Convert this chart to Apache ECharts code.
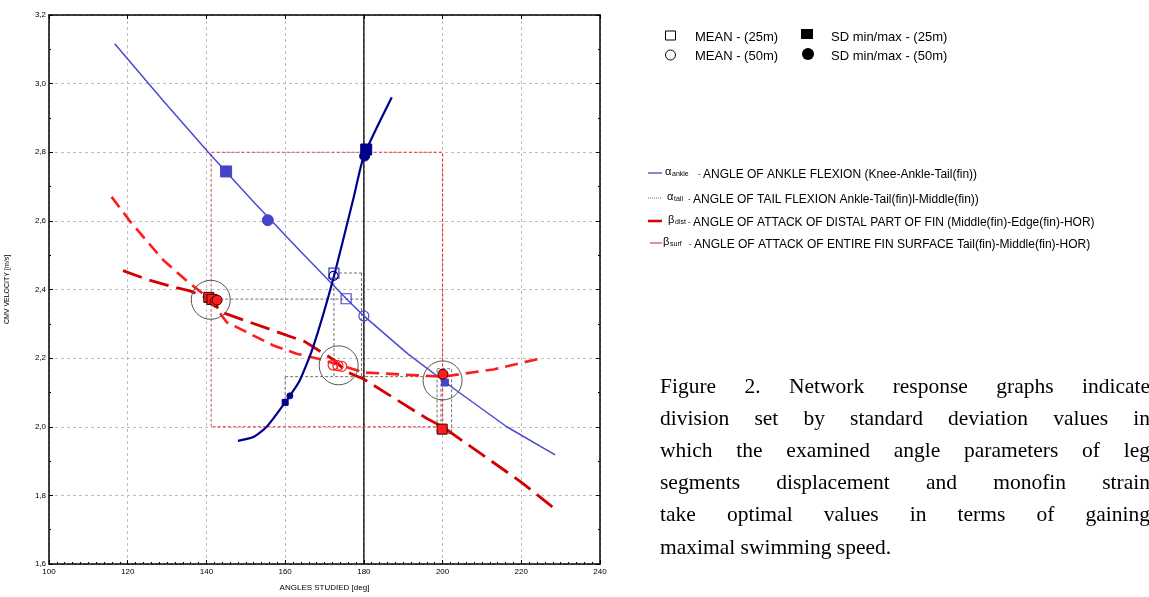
<!DOCTYPE html>
<html>
<head>
<meta charset="utf-8">
<script src="https://cdn.jsdelivr.net/npm/echarts@6/dist/echarts.min.js"></script>
<style>
  html, body { margin: 0; padding: 0; background: #ffffff; }
  #chart { width: 1149px; height: 597px; }
</style>
</head>
<body>
<div id="chart"></div>
<script>
// Network response curves: [angle (deg), C.M. velocity (m/s)]
const ankleCurve = [[116.7, 3.116], [128.8, 2.953], [140.3, 2.802], [152.0, 2.655], [164.0, 2.510],
  [176.0, 2.368], [180.0, 2.323], [191.1, 2.213], [203.0, 2.110], [216.3, 2.000], [228.6, 1.918]];
const tailCurve = [[148.0, 1.959], [151.9, 1.970], [155.3, 2.000], [160.0, 2.071], [163.7, 2.135],
  [167.1, 2.232], [172.2, 2.430], [177.3, 2.663], [180.0, 2.789], [187.1, 2.960]];
const distCurve = [[118.8, 2.455], [124.7, 2.430], [130.7, 2.410], [135.8, 2.396], [140.9, 2.372],
  [143.8, 2.334], [165.0, 2.248], [172.6, 2.193], [175.6, 2.160], [179.8, 2.140], [196.0, 2.024],
  [200.0, 2.000], [219.7, 1.841], [229.4, 1.753]];
const surfCurve = [[115.9, 2.670], [120.5, 2.600], [129.0, 2.486], [134.9, 2.426], [140.9, 2.372],
  [145.1, 2.305], [157.0, 2.237], [162.9, 2.213], [168.4, 2.198], [172.6, 2.184], [180.2, 2.158],
  [200.0, 2.146], [212.9, 2.167], [225.2, 2.200]];

// Mean and SD min/max markers
const ankleSdSquare = [[145.0, 2.744]];
const ankleSdCircle = [[155.6, 2.602]];
const ankleMeanSquare = [[175.5, 2.373]];
const ankleMeanCircle = [[180.0, 2.323]];
const ankleOptimum = [[200.6, 2.129]];
const tailSdSquareLow = [[160.0, 2.071]];
const tailSdCircleLow = [[161.2, 2.090]];
const tailMeanSquare = [[172.4, 2.448]];
const tailMeanCircle = [[172.3, 2.440]];
const tailSdSquareHigh = [[180.6, 2.808]];
const tailSdCircleHigh = [[180.2, 2.789]];
const finSdSquares = [[140.6, 2.377], [141.4, 2.371], [199.9, 1.993]];
const finSdCircles = [[142.2, 2.365], [142.7, 2.369], [200.1, 2.153]];
const finMeanCircles = [[172.2, 2.180], [173.4, 2.178], [174.4, 2.176]];

// Optimal response points (ringed)
const optimumPoints = [[141.1, 2.370], [173.6, 2.179], [200.0, 2.135]];

// Standard deviation ranges
const sdRangeRed = [[180.0, 2.8], [200.0, 2.8], [200.0, 2.0], [141.2, 2.0]];
const sdRangeDark = [[141.2, 2.0], [141.2, 2.8], [180.0, 2.8]];
const sdFrames = [
  [[141.0, 2.372], [180.0, 2.372]],
  [[172.4, 2.448], [180.0, 2.448]],
  [[172.4, 2.448], [172.4, 2.146]],
  [[179.4, 2.448], [179.4, 2.146]],
  [[160.0, 2.146], [200.0, 2.146]],
  [[160.0, 2.146], [160.0, 2.070]],
  [[198.6, 2.169], [202.3, 2.169], [202.3, 1.980], [198.6, 1.980], [198.6, 2.169]],
  [[199.6, 2.169], [199.6, 1.980]]
];
const referenceAngle = 180;

// Axis ranges
const xRange = [100, 240, 20];
const yRange = [1.6, 3.2, 0.2];

// Legend and caption text
const markerLegend = [
  ['MEAN - (25m)', 'SD min/max - (25m)'],
  ['MEAN - (50m)', 'SD min/max - (50m)']
];
const curveLegend = [
  ['α', 'ankle', 'ANGLE OF ANKLE FLEXION (Knee-Ankle-Tail(fin))'],
  ['α', 'tail', 'ANGLE OF TAIL FLEXION Ankle-Tail(fin)l-Middle(fin))'],
  ['β', 'dist', 'ANGLE OF ATTACK OF DISTAL PART OF FIN (Middle(fin)-Edge(fin)-HOR)'],
  ['β', 'surf', 'ANGLE OF ATTACK OF ENTIRE FIN SURFACE Tail(fin)-Middle(fin)-HOR)']
];
const captionLines = [
  'Figure 2. Network response graphs indicate',
  'division set by standard deviation values in',
  'which the examined angle parameters of leg',
  'segments displacement and monofin strain',
  'take optimal values in terms of gaining',
  'maximal swimming speed.'
];

const SANS = '"Liberation Sans", Arial, sans-serif';
const SERIF = '"Liberation Serif", "Times New Roman", serif';

function curve(data, color, width, type, z, smooth) {
  return { type: 'line', data, showSymbol: false, symbol: 'none', silent: true, z: z || 3,
    smooth: smooth || false, lineStyle: { color, width, type: type || 'solid' } };
}
function dots(data, symbol, size, fill, stroke, bw) {
  return { type: 'scatter', data, symbol, symbolSize: size, silent: true, z: 5,
    itemStyle: { color: fill, borderColor: stroke, borderWidth: bw == null ? 1 : bw, opacity: 1 } };
}

const series = [];
// reference angle
series.push(curve([[referenceAngle, yRange[0]], [referenceAngle, yRange[1]]], '#000000', 1.3, 'solid', 2));
// SD ranges
series.push(curve(sdRangeDark, '#b05858', 1, [3, 2], 2));
series.push(curve(sdRangeRed, '#f03030', 1.2, [3, 2], 2));
sdFrames.forEach(f => series.push(curve(f, '#707070', 1, [3, 2], 2)));
// response curves
series.push(curve(ankleCurve, '#4a4ad0', 1.5));
series.push(curve(surfCurve, '#ff1c1c', 2.6, [13, 7]));
series.push(curve(distCurve, '#d40000', 2.8, [20, 8]));
series.push(curve(tailCurve, '#00008b', 2.2, 'solid', 3, 0.2));
// markers
series.push(dots(ankleSdSquare, 'rect', 11, '#4444c8', '#4444c8'));
series.push(dots(ankleSdCircle, 'circle', 11, '#4444c8', '#4444c8'));
series.push(dots(ankleMeanSquare, 'rect', 10, 'rgba(255,255,255,0)', '#4a4ad0', 1.2));
series.push(dots(ankleMeanCircle, 'circle', 10, 'rgba(255,255,255,0)', '#4a4ad0', 1.2));
series.push(dots(ankleOptimum, 'rect', 7, '#4444c8', '#4444c8'));
series.push(dots(tailSdSquareLow, 'rect', 6, '#00008b', '#00008b'));
series.push(dots(tailSdCircleLow, 'circle', 6, '#00008b', '#00008b'));
series.push(dots(tailMeanSquare, 'rect', 10, 'rgba(255,255,255,0)', '#3a3ac0', 1.2));
series.push(dots(tailMeanCircle, 'circle', 9, 'rgba(255,255,255,0)', '#00008b', 1.2));
series.push(dots(tailSdSquareHigh, 'rect', 11, '#00008b', '#00008b'));
series.push(dots(tailSdCircleHigh, 'circle', 10, '#00008b', '#00008b'));
series.push(dots(finSdSquares, 'rect', 10, '#ff1c1c', '#3a0000'));
series.push(dots(finSdCircles, 'circle', 10, '#ff1c1c', '#3a0000'));
series.push(dots(finMeanCircles, 'circle', 10, 'rgba(255,255,255,0)', '#ff2020', 1.2));
series.push(dots(optimumPoints, 'circle', 39, 'rgba(255,255,255,0)', '#555555', 1));

// ---------- graphic: legends and caption ----------
const graphic = [];
function txt(x, y, text, font, extra) {
  return Object.assign({ type: 'text', x, y, silent: true,
    style: { text, font, fill: '#000', textAlign: 'left', textVerticalAlign: 'middle' } }, extra || {});
}

// marker legend
const mRowY = [36, 55];
graphic.push({ type: 'rect', shape: { x: 665.5, y: 31, width: 10, height: 9 }, silent: true,
  style: { fill: 'none', stroke: '#000', lineWidth: 1 } });
graphic.push({ type: 'rect', shape: { x: 801, y: 29, width: 12, height: 10 }, silent: true,
  style: { fill: '#000' } });
graphic.push({ type: 'circle', shape: { cx: 670.5, cy: 55, r: 5 }, silent: true,
  style: { fill: 'none', stroke: '#000', lineWidth: 1 } });
graphic.push({ type: 'circle', shape: { cx: 808, cy: 54, r: 6 }, silent: true,
  style: { fill: '#000' } });
markerLegend.forEach((row, i) => {
  graphic.push(txt(695, mRowY[i] + 1, row[0], '13px ' + SANS));
  graphic.push(txt(831, mRowY[i] + 1, row[1], '13px ' + SANS));
});

// curve legend
const cRowY = [174, 199, 222, 244];
const greekX = [665, 667, 668, 663];
const mainX = [703, 693, 693, 694];
const sample = [
  { x1: 648, x2: 662, color: '#6262c4', width: 1.5, dash: null },
  { x1: 648, x2: 662, color: '#3aa03a', width: 1, dash: [1, 1] },
  { x1: 648, x2: 662, color: '#dd0000', width: 2.6, dash: null },
  { x1: 650, x2: 662, color: '#d02020', width: 1, dash: null }
];
curveLegend.forEach((row, i) => {
  const y = cRowY[i];
  const s = sample[i];
  graphic.push({ type: 'line', silent: true, shape: { x1: s.x1, y1: y - 1, x2: s.x2, y2: y - 1 },
    style: { stroke: s.color, lineWidth: s.width, lineDash: s.dash } });
  graphic.push(txt(greekX[i], y - 2, row[0], '11px ' + SANS));
  graphic.push(txt(greekX[i] + 7, y, row[1], '7px ' + SANS));
  graphic.push(txt(mainX[i] - 5, y, '-', '8px ' + SANS));
  graphic.push(txt(mainX[i], y + 1, row[2], '12px ' + SANS));
});

// caption, justified
const capFont = '21.5px ' + SERIF;
const measure = document.createElement('canvas').getContext('2d');
measure.font = capFont;
const capLeft = 660, capRight = 1150, capTop = 387, capPitch = 32.2;
captionLines.forEach((line, i) => {
  const words = line.split(' ');
  const y = capTop + i * capPitch;
  const widths = words.map(w => measure.measureText(w).width);
  const total = widths.reduce((a, b) => a + b, 0);
  const last = i === captionLines.length - 1;
  const gap = last ? measure.measureText(' ').width : (capRight - capLeft - total) / (words.length - 1);
  let x = capLeft;
  words.forEach((w, k) => {
    graphic.push(txt(x, y, w, capFont));
    x += widths[k] + gap;
  });
});

const axisCommon = {
  axisLine: { show: true, onZero: false, lineStyle: { color: '#000', width: 1.5 } },
  axisTick: { show: true, inside: true, length: 4, lineStyle: { color: '#000', width: 1 } },
  minorTick: { show: true, length: 2, lineStyle: { color: '#000', width: 1 } }
};

const option = {
  animation: false,
  backgroundColor: '#ffffff',
  grid: { left: 49, right: 549, top: 15, bottom: 31, containLabel: false },
  xAxis: [
    Object.assign({}, axisCommon, {
      type: 'value', min: xRange[0], max: xRange[1], interval: xRange[2], position: 'bottom',
      minorTick: Object.assign({}, axisCommon.minorTick, { splitNumber: 10 }),
      axisLabel: { color: '#000', fontSize: 8, fontFamily: SANS, margin: 4 },
      splitLine: { show: true, lineStyle: { color: '#bdbdbd', width: 1, type: [3, 3] } },
      name: 'ANGLES STUDIED [deg]', nameLocation: 'middle', nameGap: 20,
      nameTextStyle: { color: '#000', fontSize: 8, fontFamily: SANS }
    }),
    Object.assign({}, axisCommon, {
      type: 'value', min: xRange[0], max: xRange[1], interval: xRange[2], position: 'top',
      minorTick: { show: false }, axisLabel: { show: false }, splitLine: { show: false }
    })
  ],
  yAxis: [
    Object.assign({}, axisCommon, {
      type: 'value', min: yRange[0], max: yRange[1], interval: yRange[2], position: 'left',
      minorTick: Object.assign({}, axisCommon.minorTick, { splitNumber: 2 }),
      axisLabel: { color: '#000', fontSize: 8, fontFamily: SANS, margin: 3,
        formatter: v => v.toFixed(1).replace('.', ',') },
      splitLine: { show: true, lineStyle: { color: '#bdbdbd', width: 1, type: [3, 3] } },
      name: 'CMV VELOCITY [m/s]', nameLocation: 'middle', nameGap: 38, nameRotate: 90,
      nameTextStyle: { color: '#000', fontSize: 7, fontFamily: SANS }
    }),
    Object.assign({}, axisCommon, {
      type: 'value', min: yRange[0], max: yRange[1], interval: yRange[2], position: 'right',
      minorTick: Object.assign({}, axisCommon.minorTick, { splitNumber: 2 }),
      axisLabel: { show: false }, splitLine: { show: false }
    })
  ],
  series,
  graphic: { elements: graphic }
};

const chart = echarts.init(document.getElementById('chart'), null, { renderer: 'canvas' });
chart.setOption(option);
</script>
</body>
</html>
